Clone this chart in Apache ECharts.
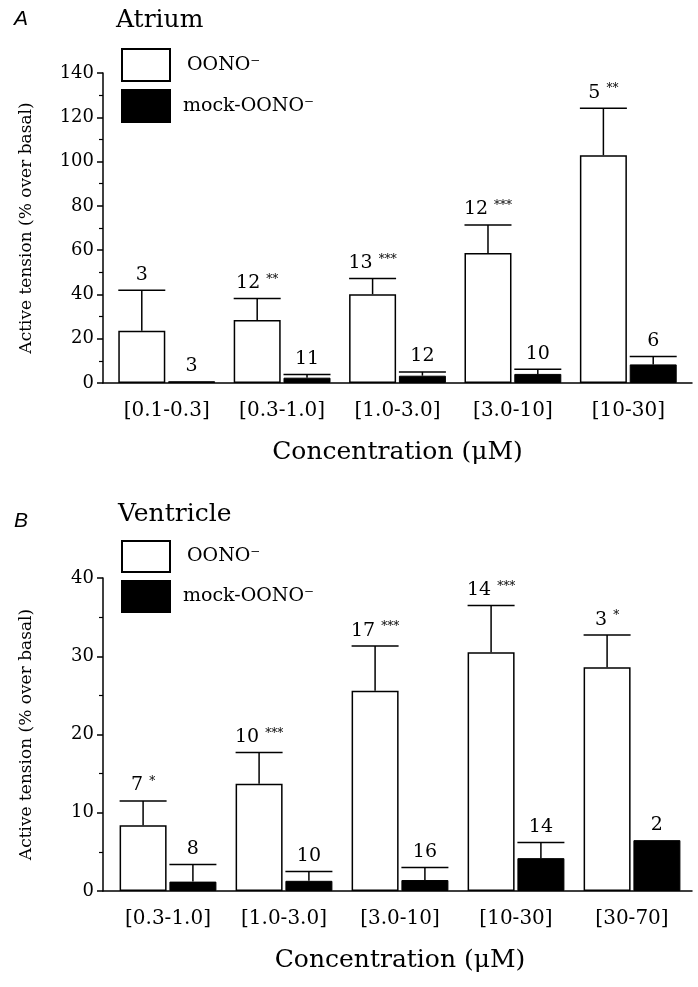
<!DOCTYPE html>
<html><head><meta charset="utf-8">
<script src="https://cdn.jsdelivr.net/npm/echarts@6/dist/echarts.min.js"></script>
<style>html,body{margin:0;padding:0;background:#fff}#c{width:698px;height:987px}</style>
</head><body><div id="c"></div>
<script>
// ---- Panel A: Atrium ----
const atriumCategories = ['[0.1-0.3]', '[0.3-1.0]', '[1.0-3.0]', '[3.0-10]', '[10-30]'];
const atriumOONO      = [23.6, 28.4, 40.1, 58.7, 102.9];
const atriumOONOErr   = [18.3, 9.8, 7.1, 12.7, 21.2];
const atriumOONON     = [3, 12, 13, 12, 5];
const atriumOONOSig   = ['', '**', '***', '***', '**'];
const atriumMock      = [0.8, 2.4, 3.3, 4.1, 8.4];
const atriumMockErr   = [0, 1.4, 1.7, 2.1, 3.6];
const atriumMockN     = [3, 11, 12, 10, 6];
const atriumTicks     = [0, 20, 40, 60, 80, 100, 120, 140];

// ---- Panel B: Ventricle ----
const ventricleCategories = ['[0.3-1.0]', '[1.0-3.0]', '[3.0-10]', '[10-30]', '[30-70]'];
const ventricleOONO     = [8.4, 13.7, 25.6, 30.5, 28.6];
const ventricleOONOErr  = [3.1, 4.0, 5.7, 6.0, 4.1];
const ventricleOONON    = [7, 10, 17, 14, 3];
const ventricleOONOSig  = ['*', '***', '***', '***', '*'];
const ventricleMock     = [1.2, 1.3, 1.4, 4.2, 6.5];
const ventricleMockErr  = [2.2, 1.2, 1.6, 2.0, 0];
const ventricleMockN    = [8, 10, 16, 14, 2];
const ventricleTicks    = [0, 10, 20, 30, 40];

const SERIF = '"DejaVu Serif", "Liberation Serif", serif';
const SANS = '"Liberation Sans", Arial, sans-serif';
const BAR_W = 47;
const BAR_GAP = 0.06;
const OFFSET = BAR_W * (1 + BAR_GAP) / 2;
const NAME_OONO = 'OONO\u207B';
const NAME_MOCK = 'mock-OONO\u207B';

function errSeries(xi, yi, values, errs, ns, sigs, sign) {
  return {
    type: 'custom', xAxisIndex: xi, yAxisIndex: yi, silent: true, z: 5, clip: false,
    data: values.map((v, i) => [i, v, errs[i]]),
    renderItem: function (params, api) {
      const i = api.value(0), v = api.value(1), e = api.value(2);
      const p0 = api.coord([i, v]);
      const p1 = api.coord([i, v + e]);
      const x = p0[0] + sign * OFFSET;
      const children = [];
      if (e > 0) {
        children.push({ type: 'line', shape: { x1: x, y1: p0[1], x2: x, y2: p1[1] }, style: { stroke: '#000', lineWidth: 1.5 } });
        children.push({ type: 'line', shape: { x1: x - BAR_W / 2, y1: p1[1], x2: x + BAR_W / 2, y2: p1[1] }, style: { stroke: '#000', lineWidth: 1.5 } });
      }
      const idx = params.dataIndex;
      const sig = sigs ? sigs[idx] : '';
      const txt = sig ? '{n|' + ns[idx] + ' }{s|' + sig + '}' : '{n|' + ns[idx] + '}';
      children.push({
        type: 'text', x: x, y: p1[1] - 6,
        style: {
          text: txt, align: 'center', verticalAlign: 'bottom',
          fill: '#000', font: '19px ' + SERIF,
          rich: {
            n: { fontFamily: SERIF, fontSize: 19, fill: '#000', color: '#000' },
            s: { fontFamily: SERIF, fontSize: 12, fill: '#000', color: '#000', verticalAlign: 'top' }
          }
        }
      });
      return { type: 'group', children: children };
    }
  };
}

function barPair(xi, yi, oono, mock) {
  return [
    { type: 'bar', name: NAME_OONO, xAxisIndex: xi, yAxisIndex: yi, data: oono, barWidth: BAR_W, barGap: (BAR_GAP * 100) + '%',
      itemStyle: { color: '#fff', borderColor: '#000', borderWidth: 1.5 }, silent: true },
    { type: 'bar', name: NAME_MOCK, xAxisIndex: xi, yAxisIndex: yi, data: mock, barWidth: BAR_W, barGap: (BAR_GAP * 100) + '%',
      itemStyle: { color: '#000', borderColor: '#000', borderWidth: 1 }, silent: true }
  ];
}

function catAxis(gi, cats) {
  return {
    gridIndex: gi, type: 'category', data: cats,
    axisLine: { show: false }, axisTick: { show: false },
    axisLabel: { fontFamily: SERIF, fontSize: 20, color: '#000', margin: 18 },
    name: 'Concentration (\u03BCM)', nameLocation: 'middle', nameGap: 57,
    nameTextStyle: { fontFamily: SERIF, fontSize: 25, color: '#000' }
  };
}
function lineXAxis(gi) {
  return { gridIndex: gi, type: 'value', min: 0, max: 1,
    axisLine: { show: true, onZero: false, lineStyle: { color: '#000', width: 1.5 } },
    axisTick: { show: false }, axisLabel: { show: false }, splitLine: { show: false } };
}
function hiddenY(gi, max) {
  return { gridIndex: gi, type: 'value', min: 0, max: max, show: false, splitLine: { show: false } };
}
function visibleY(gi, ticks) {
  const max = ticks[ticks.length - 1];
  return {
    gridIndex: gi, type: 'value', min: ticks[0], max: max, interval: ticks[1] - ticks[0],
    axisLine: { show: true, lineStyle: { color: '#000', width: 1.5 } },
    axisTick: { show: true, length: 6, lineStyle: { color: '#000', width: 1.5 } },
    minorTick: { show: true, splitNumber: 2, length: 4, lineStyle: { color: '#000', width: 1.2 } },
    axisLabel: { fontFamily: SERIF, fontSize: 18, color: '#000', margin: 9 },
    splitLine: { show: false }, minorSplitLine: { show: false },
    name: 'Active tension (% over basal)', nameLocation: 'middle', nameRotate: 90, nameGap: 68,
    nameTextStyle: { fontFamily: SERIF, fontSize: 17, color: '#000' }
  };
}
function legendAt(top, h) {
  return {
    left: 116, top: top, orient: 'vertical', itemWidth: 48, itemHeight: h, itemGap: 7,
    selectedMode: false, icon: 'rect',
    data: [{ name: NAME_OONO, textStyle: { padding: [0, 0, 0, 12] } }, { name: NAME_MOCK, textStyle: { padding: [0, 0, 0, 8] } }],
    textStyle: { fontFamily: SERIF, fontSize: 19, color: '#000' }
  };
}

const chart = echarts.init(document.getElementById('c'), null, { renderer: 'canvas' });
chart.setOption({
  animation: false,
  backgroundColor: '#fff',
  title: [
    { text: 'A', left: 9, top: 4, textStyle: { fontFamily: SANS, fontStyle: 'italic', fontSize: 21, fontWeight: 'normal', color: '#000' } },
    { text: 'Atrium', left: 111, top: 3, textStyle: { fontFamily: SERIF, fontSize: 25, fontWeight: 'normal', color: '#000' } },
    { text: 'B', left: 9, top: 506, textStyle: { fontFamily: SANS, fontStyle: 'italic', fontSize: 21, fontWeight: 'normal', color: '#000' } },
    { text: 'Ventricle', left: 113, top: 497, textStyle: { fontFamily: SERIF, fontSize: 25, fontWeight: 'normal', color: '#000' } }
  ],
  legend: [legendAt(43, 32), legendAt(535, 31)],
  grid: [
    { left: 109, top: 73, width: 577, height: 310 },
    { left: 103, top: 73, width: 589, height: 310 },
    { left: 110, top: 578, width: 580, height: 313 },
    { left: 103, top: 578, width: 589, height: 313 }
  ],
  xAxis: [catAxis(0, atriumCategories), lineXAxis(1), catAxis(2, ventricleCategories), lineXAxis(3)],
  yAxis: [hiddenY(0, 140), visibleY(1, atriumTicks), hiddenY(2, 40), visibleY(3, ventricleTicks)],
  series: [
    ...barPair(0, 0, atriumOONO, atriumMock),
    errSeries(0, 0, atriumOONO, atriumOONOErr, atriumOONON, atriumOONOSig, -1),
    errSeries(0, 0, atriumMock, atriumMockErr, atriumMockN, null, 1),
    ...barPair(2, 2, ventricleOONO, ventricleMock),
    errSeries(2, 2, ventricleOONO, ventricleOONOErr, ventricleOONON, ventricleOONOSig, -1),
    errSeries(2, 2, ventricleMock, ventricleMockErr, ventricleMockN, null, 1)
  ]
});
</script></body></html>
